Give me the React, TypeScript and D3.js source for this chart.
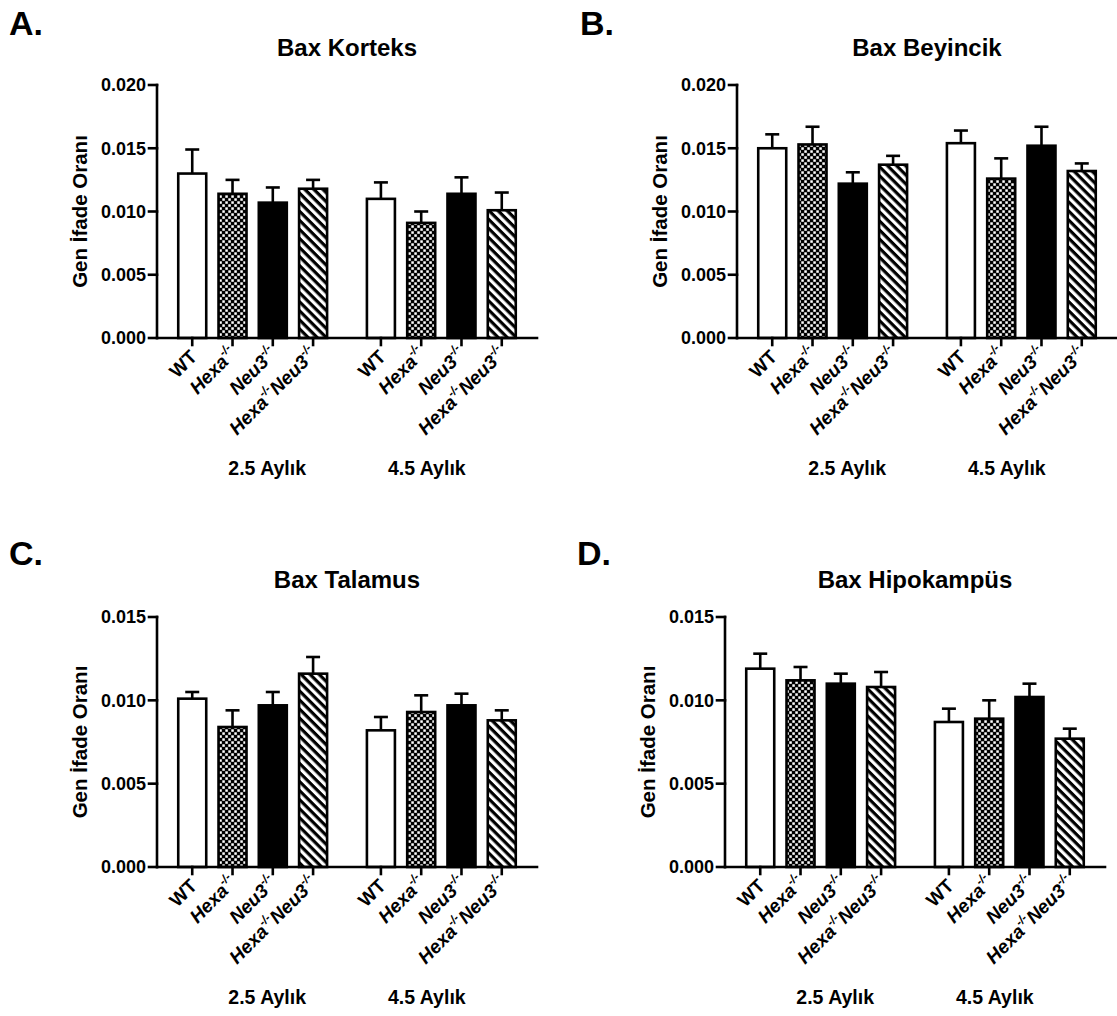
import React from "react";
import * as d3 from "d3";

// categories
const genotypes = ["WT", "Hexa", "Neu3", "HexaNeu3"];
const ages = ["2.5 Aylık", "4.5 Aylık"];

// mean and SEM per bar, group order: 2.5 months (4 genotypes) then 4.5 months
const korteksMean = [0.013, 0.0114, 0.0107, 0.0118, 0.011, 0.0091, 0.0114, 0.0101];
const korteksSem = [0.0019, 0.0011, 0.0012, 0.0007, 0.0013, 0.0009, 0.0013, 0.0014];

const beyincikMean = [0.015, 0.0153, 0.0122, 0.0137, 0.0154, 0.0126, 0.0152, 0.0132];
const beyincikSem = [0.0011, 0.0014, 0.0009, 0.0007, 0.001, 0.0016, 0.0015, 0.0006];

const talamusMean = [0.0101, 0.0084, 0.0097, 0.0116, 0.0082, 0.0093, 0.0097, 0.0088];
const talamusSem = [0.0004, 0.001, 0.0008, 0.001, 0.0008, 0.001, 0.0007, 0.0006];

const hipokampusMean = [0.0119, 0.0112, 0.011, 0.0108, 0.0087, 0.0089, 0.0102, 0.0077];
const hipokampusSem = [0.0009, 0.0008, 0.0006, 0.0009, 0.0008, 0.0011, 0.0008, 0.0006];

// y tick labels
const ticksTo020 = [0, 0.005, 0.01, 0.015, 0.02];
const ticksTo015 = [0, 0.005, 0.01, 0.015];

const yLabel = "Gen İfade Oranı";

const panels = [
  { letter: "A.", title: "Bax Korteks", mean: korteksMean, sem: korteksSem, yMax: 0.02, ticks: ticksTo020,
    x0: 157, x1: 537, yTop: 85, yBot: 338, lx: 9, ly: 35 },
  { letter: "B.", title: "Bax Beyincik", mean: beyincikMean, sem: beyincikSem, yMax: 0.02, ticks: ticksTo020,
    x0: 737, x1: 1117, yTop: 85, yBot: 338, lx: 580, ly: 35 },
  { letter: "C.", title: "Bax Talamus", mean: talamusMean, sem: talamusSem, yMax: 0.015, ticks: ticksTo015,
    x0: 157, x1: 537, yTop: 617, yBot: 867, lx: 9, ly: 565 },
  { letter: "D.", title: "Bax Hipokampüs", mean: hipokampusMean, sem: hipokampusSem, yMax: 0.015, ticks: ticksTo015,
    x0: 725, x1: 1105, yTop: 617, yBot: 867, lx: 577, ly: 565 },
];

const fills = {
  WT: "#fff",
  Hexa: "url(#checker)",
  Neu3: "#000",
  HexaNeu3: "url(#hatch)",
};

const SW = 2.6;

const Sup = () => (
  <tspan fontSize={12} dy={-8.5} fontStyle="italic">
    -/-
  </tspan>
);

// rotated genotype label
const GenoLabel = ({ g, x, y }) => {
  const t = `translate(${x},${y}) rotate(-45)`;
  if (g === "WT")
    return (
      <text transform={`translate(${x + 1},${y + 3}) rotate(-45)`} textAnchor="end" fontSize={19}>
        WT
      </text>
    );
  if (g === "HexaNeu3")
    return (
      <text transform={t} textAnchor="end" fontSize={19}>
        <tspan fontStyle="italic">Hexa</tspan>
        <Sup />
        <tspan fontStyle="italic" dy={8.5}>Neu3</tspan>
        <Sup />
      </text>
    );
  return (
    <text transform={t} textAnchor="end" fontSize={19}>
      <tspan fontStyle="italic">{g}</tspan>
      <Sup />
    </text>
  );
};

const Panel = ({ p }) => {
  const outer = d3.scaleBand().domain(ages).range([p.x0, p.x1]).paddingInner(0.146).paddingOuter(0.08);
  const inner = d3
    .scaleBand()
    .domain(genotypes)
    .range([0, outer.bandwidth()])
    .paddingInner(0.305)
    .paddingOuter(0.1525);
  const y = d3.scaleLinear().domain([0, p.yMax]).range([p.yBot, p.yTop]);
  const fmt = d3.format(".3f");

  const rows = ages.flatMap((age, gi) =>
    genotypes.map((g, i) => ({ age, g, mean: p.mean[gi * 4 + i], sem: p.sem[gi * 4 + i] }))
  );
  const bw = inner.bandwidth();
  const cx = (d) => outer(d.age) + inner(d.g) + bw / 2;
  const mid = (p.x0 + p.x1) / 2;
  const span = p.x1 - p.x0;

  return (
    <g>
      <text x={p.lx} y={p.ly} fontSize={34}>
        {p.letter}
      </text>
      <text x={mid} y={p.yTop - 29} fontSize={24} textAnchor="middle">
        {p.title}
      </text>
      <text
        transform={`translate(${p.x0 - 70},${(p.yTop + p.yBot) / 2}) rotate(-90)`}
        textAnchor="middle"
        fontSize={20.5}
      >
        {yLabel}
      </text>

      {/* bars */}
      {rows.map((d, i) => (
        <rect
          key={"b" + i}
          x={outer(d.age) + inner(d.g)}
          y={y(d.mean)}
          width={bw}
          height={y(0) - y(d.mean)}
          fill={fills[d.g]}
          stroke="#000"
          strokeWidth={SW}
        />
      ))}

      {/* error bars (upper only) */}
      {rows.map((d, i) => (
        <g key={"e" + i} stroke="#000" strokeWidth={SW}>
          <line x1={cx(d)} x2={cx(d)} y1={y(d.mean)} y2={y(d.mean + d.sem)} />
          <line x1={cx(d) - bw / 4} x2={cx(d) + bw / 4} y1={y(d.mean + d.sem)} y2={y(d.mean + d.sem)} />
        </g>
      ))}

      {/* axes */}
      <g stroke="#000" strokeWidth={SW} strokeLinecap="square">
        <line x1={p.x0} x2={p.x0} y1={y(p.yMax)} y2={y(0)} />
        <line x1={p.x0} x2={p.x1} y1={y(0)} y2={y(0)} />
        {p.ticks.map((t) => (
          <line key={t} x1={p.x0 - 8} x2={p.x0} y1={y(t)} y2={y(t)} />
        ))}
        {rows.map((d, i) => (
          <line key={i} x1={cx(d)} x2={cx(d)} y1={y(0)} y2={y(0) + 7} />
        ))}
      </g>

      {p.ticks.map((t) => (
        <text key={t} x={p.x0 - 11} y={y(t)} dy="0.36em" textAnchor="end" fontSize={18}>
          {fmt(t)}
        </text>
      ))}

      {rows.map((d, i) => (
        <GenoLabel key={i} g={d.g} x={cx(d) + 5} y={y(0) + 17} />
      ))}

      {ages.map((a, i) => (
        <text key={a} x={mid + (i === 0 ? -0.21 : 0.21) * span} y={p.yBot + 137} fontSize={19.5} textAnchor="middle">
          {a}
        </text>
      ))}
    </g>
  );
};

export default function App() {
  return (
    <svg
      width={1117}
      height={1016}
      style={{ position: "absolute", left: 0, top: 0, background: "#fff" }}
      fontFamily="'Liberation Sans', Arial, sans-serif"
      fontWeight="bold"
    >
      <defs>
        <pattern id="checker" patternUnits="userSpaceOnUse" width={6} height={6}>
          <rect width={6} height={6} fill="#000" />
          <rect x={0.3} y={0.3} width={2.5} height={2.5} fill="#fff" />
          <rect x={3.3} y={3.3} width={2.5} height={2.5} fill="#fff" />
        </pattern>
        <pattern id="hatch" patternUnits="userSpaceOnUse" width={6.4} height={6.4} patternTransform="rotate(45)">
          <rect width={6.4} height={6.4} fill="#fff" />
          <rect x={0} y={0} width={6.4} height={3.2} fill="#000" />
        </pattern>
      </defs>
      <rect width={1117} height={1016} fill="#fff" />
      {panels.map((p) => (
        <Panel key={p.letter} p={p} />
      ))}
    </svg>
  );
}
